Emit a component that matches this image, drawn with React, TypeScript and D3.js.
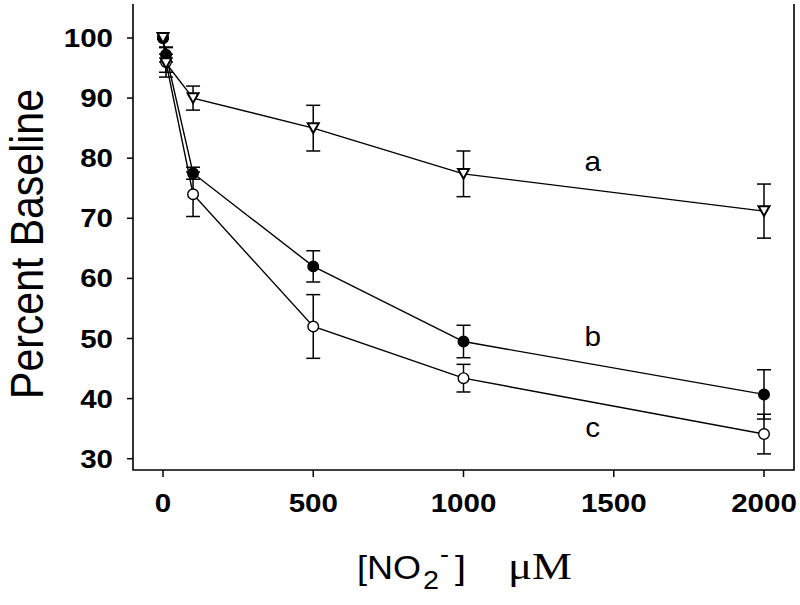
import React from "react";
import * as d3 from "d3";

const concentrations = [0, 10, 100, 500, 1000, 2000];
const seriesA = [100, 95.8, 90.0, 85.0, 77.4, 71.2];
const errA = [0, 1.5, 2.0, 3.8, 3.8, 4.5];
const seriesB = [100, 97.2, 77.5, 62.0, 49.5, 40.7];
const errB = [0, 1.2, 1.0, 2.6, 2.7, 4.1];
const seriesC = [100, 96.0, 74.0, 52.0, 43.4, 34.1];
const errC = [0, 2.5, 3.7, 5.3, 2.3, 3.3];
const xTicks = [0, 500, 1000, 1500, 2000];
const yTicks = [30, 40, 50, 60, 70, 80, 90, 100];
const curveLabels = [
  { text: "a", x: 1430, y: 79.5 },
  { text: "b", x: 1430, y: 50.3 },
  { text: "c", x: 1430, y: 35.3 },
];

const W = 800;
const H = 605;
const frameLeft = 133;
const frameRight = 794;
const frameBottom = 470;
const frameTop = 4;

const x = d3.scaleLinear().domain([0, 2000]).range([163, 764]);
const y = d3.scaleLinear().domain([30, 100]).range([458.7, 38]);

type Pt = { c: number; v: number; e: number };
const build = (vals: number[], errs: number[]): Pt[] =>
  concentrations.map((c, i) => ({ c, v: vals[i], e: errs[i] }));

const series = [
  { key: "c", pts: build(seriesC, errC), shape: "circle", fill: "#fff" },
  { key: "b", pts: build(seriesB, errB), shape: "circle", fill: "#000" },
  { key: "a", pts: build(seriesA, errA), shape: "tri", fill: "#fff" },
];

const line = d3
  .line<Pt>()
  .x((d) => x(d.c))
  .y((d) => y(d.v));

const font = "'Liberation Sans', Arial, sans-serif";
const serif = "'Liberation Serif', 'Times New Roman', serif";

function triPath(cx: number, cy: number, s: number) {
  const h = s * 0.9;
  return `M${cx - s / 2},${cy - h / 2}L${cx + s / 2},${cy - h / 2}L${cx},${cy + h / 2}Z`;
}

export default function App() {
  return (
    <svg
      width={W}
      height={H}
      style={{ position: "absolute", left: 0, top: 0, background: "#fff" }}
    >
      <rect x={0} y={0} width={W} height={H} fill="#fff" />
      {/* frame */}
      <path
        d={`M${frameLeft},${frameTop}V${frameBottom}H${frameRight}V${frameTop}`}
        fill="none"
        stroke="#000"
        strokeWidth={1.6}
      />
      {/* y ticks */}
      {yTicks.map((t) => (
        <g key={"y" + t}>
          <line x1={frameLeft - 6} x2={frameLeft} y1={y(t)} y2={y(t)} stroke="#000" strokeWidth={1.5} />
          <text
            transform={`translate(113,${y(t)}) scale(1.18,1)`}
            dy="0.36em"
            textAnchor="end"
            fontFamily={font}
            fontWeight="bold"
            fontSize={25}
          >
            {t}
          </text>
        </g>
      ))}
      {/* x ticks */}
      {xTicks.map((t) => (
        <g key={"x" + t}>
          <line x1={x(t)} x2={x(t)} y1={frameBottom} y2={frameBottom + 7} stroke="#000" strokeWidth={1.5} />
          <text
            transform={`translate(${x(t)},512) scale(1.18,1)`}
            textAnchor="middle"
            fontFamily={font}
            fontWeight="bold"
            fontSize={25}
          >
            {t}
          </text>
        </g>
      ))}
      {/* axis titles */}
      <text
        transform="translate(43,244) scale(1.12,1) rotate(-90)"
        textAnchor="middle"
        fontFamily={font}
        fontSize={41}
      >
        Percent Baseline
      </text>
      <g fontFamily={font}>
        <text x={357} y={579} fontSize={34} textLength={64} lengthAdjust="spacingAndGlyphs">
          [NO
        </text>
        <text x={423} y={589} fontSize={26} textLength={16} lengthAdjust="spacingAndGlyphs">
          2
        </text>
        <text x={440} y={563} fontSize={26} textLength={9} lengthAdjust="spacingAndGlyphs">
          -
        </text>
        <text x={455} y={579} fontSize={34} textLength={11} lengthAdjust="spacingAndGlyphs">
          ]
        </text>
        <text
          x={508}
          y={579}
          fontFamily={serif}
          fontSize={37}
          textLength={64}
          lengthAdjust="spacingAndGlyphs"
        >
          μM
        </text>
      </g>
      {/* lines */}
      {series.map((s) => (
        <path key={"l" + s.key} d={line(s.pts) || ""} fill="none" stroke="#000" strokeWidth={1.4} />
      ))}
      {/* error bars */}
      {series.map((s) =>
        s.pts
          .filter((p) => p.e > 0)
          .map((p, i) => (
            <g key={"e" + s.key + i} stroke="#000" strokeWidth={1.5}>
              <line x1={x(p.c)} x2={x(p.c)} y1={y(p.v + p.e)} y2={y(p.v - p.e)} />
              <line x1={x(p.c) - 7} x2={x(p.c) + 7} y1={y(p.v + p.e)} y2={y(p.v + p.e)} />
              <line x1={x(p.c) - 7} x2={x(p.c) + 7} y1={y(p.v - p.e)} y2={y(p.v - p.e)} />
            </g>
          ))
      )}
      {/* markers */}
      {series.map((s) =>
        s.pts.map((p, i) =>
          s.shape === "circle" ? (
            <circle
              key={"m" + s.key + i}
              cx={x(p.c)}
              cy={y(p.v)}
              r={5.3}
              fill={s.fill}
              stroke="#000"
              strokeWidth={1.4}
            />
          ) : (
            <path
              key={"m" + s.key + i}
              d={triPath(x(p.c), y(p.v), 11)}
              fill={s.fill}
              stroke="#000"
              strokeWidth={2}
            />
          )
        )
      )}
      {/* curve labels */}
      {curveLabels.map((l) => (
        <text
          key={l.text}
          transform={`translate(${x(l.x)},${y(l.y)}) scale(1.1,1)`}
          dy="0.36em"
          textAnchor="middle"
          fontFamily={font}
          fontSize={27}
        >
          {l.text}
        </text>
      ))}
    </svg>
  );
}
